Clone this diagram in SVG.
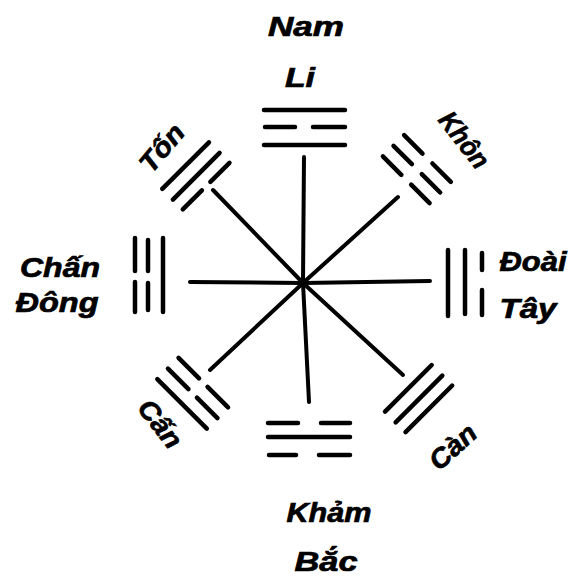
<svg xmlns="http://www.w3.org/2000/svg" width="577" height="579" viewBox="0 0 577 579">
<style>
.bg{fill:#fff}
.sp{stroke:#000;stroke-width:4;stroke-linecap:round;fill:none}
.ln{stroke:#000;stroke-width:4.5;stroke-linecap:round;fill:none}
.t{font-family:"Liberation Sans","DejaVu Sans",sans-serif;font-weight:bold;font-style:italic;font-size:27px;fill:#000;stroke:#000;stroke-width:0.7}
</style>
<rect class="bg" x="0" y="0" width="577" height="579"/>
<g id="connectors">
<line class="sp" x1="303" y1="283" x2="304" y2="157"/>
<line class="sp" x1="303" y1="283" x2="309" y2="402"/>
<line class="sp" x1="303" y1="283" x2="190" y2="282"/>
<line class="sp" x1="303" y1="283" x2="430" y2="281"/>
<line class="sp" x1="303" y1="283" x2="213" y2="190"/>
<line class="sp" x1="303" y1="283" x2="398" y2="197"/>
<line class="sp" x1="303" y1="283" x2="210" y2="370"/>
<line class="sp" x1="303" y1="283" x2="403" y2="375"/>
</g>
<g id="li">
<g transform="translate(304,283)">
<line class="ln" x1="-40" y1="-138" x2="41" y2="-138"/>
<line class="ln" x1="-39" y1="-156" x2="-9" y2="-156"/>
<line class="ln" x1="9" y1="-156" x2="41" y2="-156"/>
<line class="ln" x1="-40" y1="-173" x2="41" y2="-173"/>
</g>
<text class="t" x="300" y="87" text-anchor="middle" textLength="30" lengthAdjust="spacingAndGlyphs">Li</text>
<text class="t" x="306" y="36" text-anchor="middle" textLength="76" lengthAdjust="spacingAndGlyphs">Nam</text>
</g>
<g id="kham">
<g transform="translate(309,283)">
<line class="ln" x1="-41" y1="140" x2="-11" y2="140"/>
<line class="ln" x1="12" y1="140" x2="41" y2="140"/>
<line class="ln" x1="-41" y1="154" x2="41" y2="154"/>
<line class="ln" x1="-40" y1="172" x2="-13" y2="172"/>
<line class="ln" x1="10" y1="172" x2="41" y2="172"/>
</g>
<text class="t" x="329" y="522" text-anchor="middle" textLength="85" lengthAdjust="spacingAndGlyphs">Khảm</text>
<text class="t" x="326" y="571" text-anchor="middle" textLength="63" lengthAdjust="spacingAndGlyphs">Bắc</text>
</g>
<g id="chan">
<line class="ln" x1="163" y1="238" x2="163" y2="312"/>
<line class="ln" x1="148" y1="240" x2="148" y2="271"/>
<line class="ln" x1="148" y1="283" x2="148" y2="310"/>
<line class="ln" x1="135" y1="238" x2="135" y2="271"/>
<line class="ln" x1="135" y1="282" x2="135" y2="312"/>
<text class="t" x="60" y="277" text-anchor="middle" textLength="80" lengthAdjust="spacingAndGlyphs">Chấn</text>
<text class="t" x="57" y="312" text-anchor="middle" textLength="83" lengthAdjust="spacingAndGlyphs">Đông</text>
</g>
<g id="doai">
<line class="ln" x1="448" y1="250" x2="448" y2="316"/>
<line class="ln" x1="465" y1="250" x2="465" y2="314"/>
<line class="ln" x1="482" y1="253" x2="482" y2="270"/>
<line class="ln" x1="482" y1="290" x2="482" y2="315"/>
<text class="t" x="533" y="271" text-anchor="middle" textLength="67" lengthAdjust="spacingAndGlyphs">Đoài</text>
<text class="t" x="528" y="318" text-anchor="middle" textLength="57" lengthAdjust="spacingAndGlyphs">Tây</text>
</g>
<g id="ton">
<g transform="translate(303,283) rotate(-45)">
<line class="ln" x1="-33" y1="-137" x2="-6" y2="-137"/>
<line class="ln" x1="6" y1="-137" x2="33" y2="-137"/>
<line class="ln" x1="-33" y1="-151" x2="33" y2="-151"/>
<line class="ln" x1="-33" y1="-166" x2="33" y2="-166"/>
</g>
<text class="t" transform="translate(162,148) rotate(-50)" x="0" y="9" text-anchor="middle" textLength="54" lengthAdjust="spacingAndGlyphs">Tốn</text>
</g>
<g id="khon">
<g transform="translate(303,283) rotate(45)">
<line class="ln" x1="-33" y1="-146" x2="-7" y2="-146"/>
<line class="ln" x1="7" y1="-146" x2="33" y2="-146"/>
<line class="ln" x1="-33" y1="-161" x2="-7" y2="-161"/>
<line class="ln" x1="7" y1="-161" x2="33" y2="-161"/>
<line class="ln" x1="-33" y1="-176" x2="-7" y2="-176"/>
<line class="ln" x1="7" y1="-176" x2="33" y2="-176"/>
</g>
<text class="t" transform="translate(464,140) rotate(52)" x="0" y="9" text-anchor="middle" textLength="64" lengthAdjust="spacingAndGlyphs">Khôn</text>
</g>
<g id="can-se">
<g transform="translate(303,283) rotate(135)">
<line class="ln" x1="-33" y1="-149" x2="33" y2="-149"/>
<line class="ln" x1="-33" y1="-164" x2="33" y2="-164"/>
<line class="ln" x1="-33" y1="-178" x2="33" y2="-178"/>
</g>
<text class="t" transform="translate(453,447) rotate(-42)" x="0" y="9" text-anchor="middle" textLength="54" lengthAdjust="spacingAndGlyphs">Càn</text>
</g>
<g id="can-sw">
<g transform="translate(303,283) rotate(-135)">
<line class="ln" x1="-35" y1="-141" x2="-6" y2="-141"/>
<line class="ln" x1="6" y1="-141" x2="35" y2="-141"/>
<line class="ln" x1="-35" y1="-156" x2="-6" y2="-156"/>
<line class="ln" x1="6" y1="-156" x2="35" y2="-156"/>
<line class="ln" x1="-35" y1="-171" x2="35" y2="-171"/>
</g>
<text class="t" transform="translate(160,424) rotate(52)" x="0" y="9" text-anchor="middle" textLength="54" lengthAdjust="spacingAndGlyphs">Cấn</text>
</g>
</svg>
